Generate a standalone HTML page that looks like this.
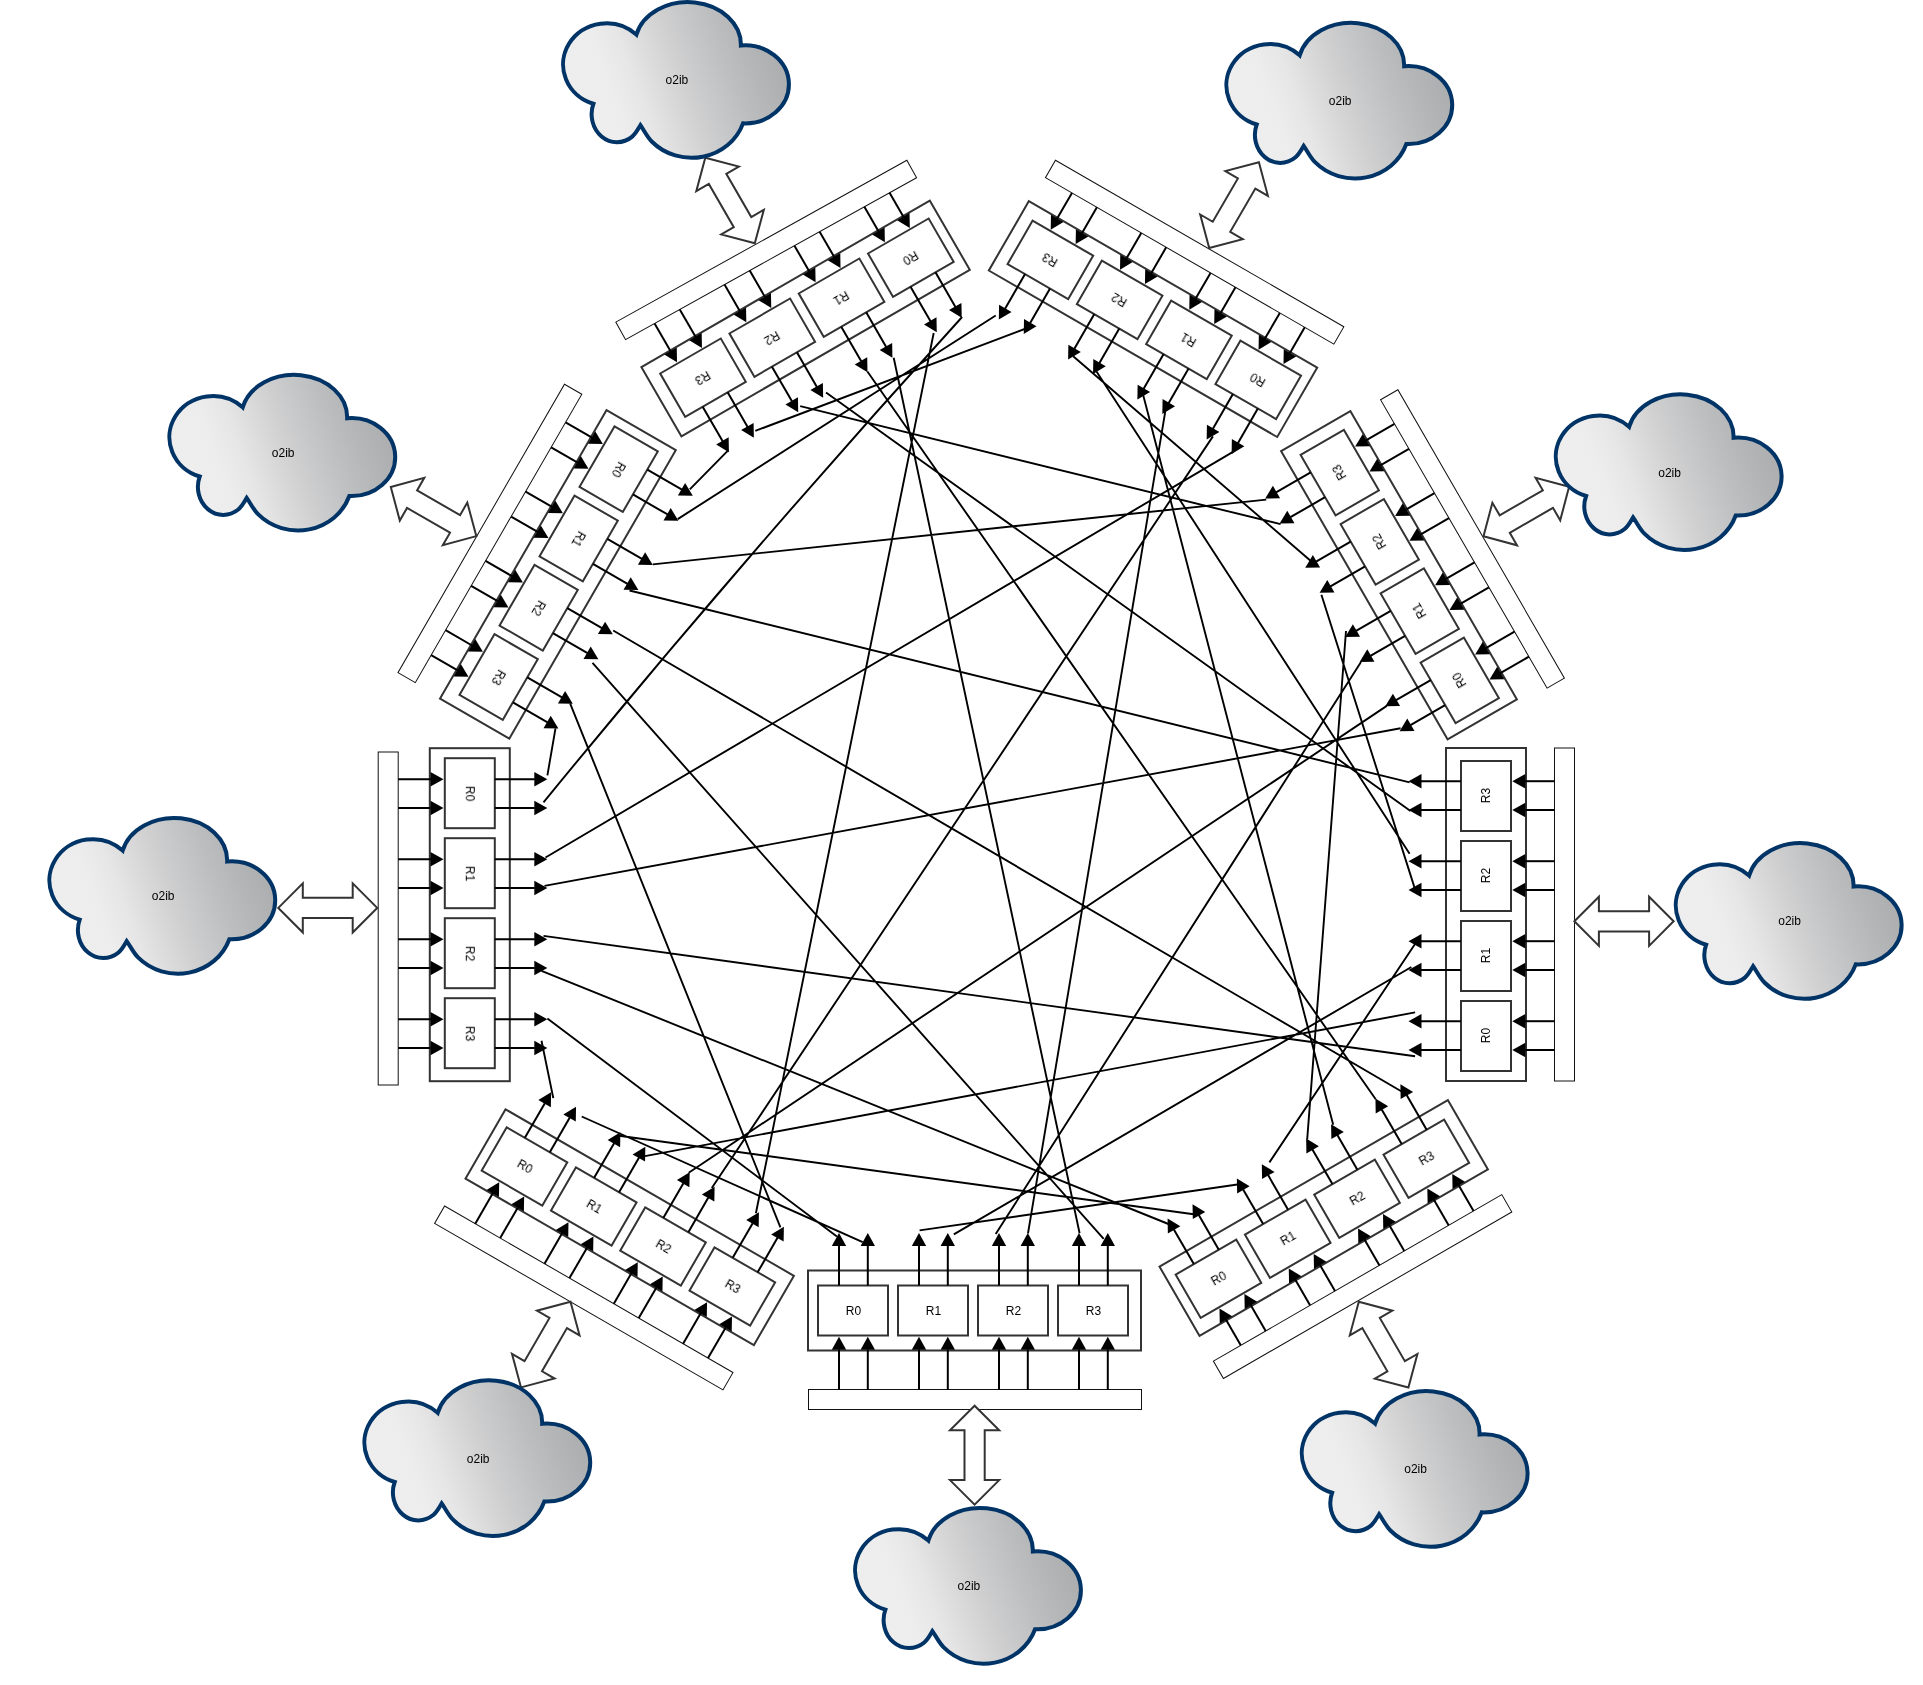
<!DOCTYPE html><html><head><meta charset="utf-8"><title>o2ib routers</title><style>html,body{margin:0;padding:0;background:#fff}svg{display:block}</style></head><body><svg width="1923" height="1685" viewBox="0 0 1923 1685">
<defs><filter id="tf" x="-1" y="-1" width="3" height="3"><feOffset dx="0" dy="0"/></filter></defs>
<defs><linearGradient id="cg" gradientUnits="userSpaceOnUse" x1="6.94" y1="119.33" x2="223.06" y2="40.67"><stop offset="0" stop-color="#eeeeee"/><stop offset="0.22" stop-color="#ededed"/><stop offset="0.33" stop-color="#e6e6e6"/><stop offset="0.43" stop-color="#dbdbdc"/><stop offset="0.53" stop-color="#d0d0d1"/><stop offset="0.63" stop-color="#c6c7c8"/><stop offset="0.73" stop-color="#bdbebf"/><stop offset="0.83" stop-color="#b5b6b7"/><stop offset="0.92" stop-color="#afb0b2"/><stop offset="1" stop-color="#aaabad"/></linearGradient></defs>
<rect width="1923" height="1685" fill="#fff"/>
<g transform="translate(808 1270.5) rotate(0)"><g fill="#fff" stroke="#333" stroke-width="2"><rect x="0" y="0" width="333" height="80"/><rect x="10" y="15" width="70" height="50"/><rect x="90" y="15" width="70" height="50"/><rect x="170" y="15" width="70" height="50"/><rect x="250" y="15" width="70" height="50"/></g><rect x="0.5" y="119" width="333" height="20" fill="#fff" stroke="#111" stroke-width="1"/><g fill="none" stroke="#000" stroke-width="2"><path d="M31 119V78.8"/><path d="M31 15V-25"/><path d="M59.8 119V78.8"/><path d="M59.8 15V-25"/><path d="M111 119V78.8"/><path d="M111 15V-25"/><path d="M139.8 119V78.8"/><path d="M139.8 15V-25"/><path d="M191 119V78.8"/><path d="M191 15V-25"/><path d="M219.8 119V78.8"/><path d="M219.8 15V-25"/><path d="M271 119V78.8"/><path d="M271 15V-25"/><path d="M299.8 119V78.8"/><path d="M299.8 15V-25"/></g><g fill="#000" stroke="none"><path d="M31 66.3L23.8 79.3L38.2 79.3Z"/><path d="M31 -37.5L23.8 -24.5L38.2 -24.5Z"/><path d="M59.8 66.3L52.6 79.3L67 79.3Z"/><path d="M59.8 -37.5L52.6 -24.5L67 -24.5Z"/><path d="M111 66.3L103.8 79.3L118.2 79.3Z"/><path d="M111 -37.5L103.8 -24.5L118.2 -24.5Z"/><path d="M139.8 66.3L132.6 79.3L147 79.3Z"/><path d="M139.8 -37.5L132.6 -24.5L147 -24.5Z"/><path d="M191 66.3L183.8 79.3L198.2 79.3Z"/><path d="M191 -37.5L183.8 -24.5L198.2 -24.5Z"/><path d="M219.8 66.3L212.6 79.3L227 79.3Z"/><path d="M219.8 -37.5L212.6 -24.5L227 -24.5Z"/><path d="M271 66.3L263.8 79.3L278.2 79.3Z"/><path d="M271 -37.5L263.8 -24.5L278.2 -24.5Z"/><path d="M299.8 66.3L292.6 79.3L307 79.3Z"/><path d="M299.8 -37.5L292.6 -24.5L307 -24.5Z"/></g><g font-family="Liberation Sans, Arial, Helvetica, sans-serif" font-size="12" text-anchor="middle" fill="#000" filter="url(#tf)"><text x="45.5" y="44.3">R0</text><text x="125.5" y="44.3">R1</text><text x="205.5" y="44.3">R2</text><text x="285.5" y="44.3">R3</text></g></g>
<g transform="translate(505.5 1109.3) rotate(30)"><g fill="#fff" stroke="#333" stroke-width="2"><rect x="0" y="0" width="333" height="80"/><rect x="10" y="15" width="70" height="50"/><rect x="90" y="15" width="70" height="50"/><rect x="170" y="15" width="70" height="50"/><rect x="250" y="15" width="70" height="50"/></g><rect x="-4.4" y="114.2" width="333" height="20" fill="#fff" stroke="#111" stroke-width="1"/><g fill="none" stroke="#000" stroke-width="2"><path d="M31 114.2V78.8"/><path d="M31 15V-25"/><path d="M59.8 114.2V78.8"/><path d="M59.8 15V-25"/><path d="M111 114.2V78.8"/><path d="M111 15V-25"/><path d="M139.8 114.2V78.8"/><path d="M139.8 15V-25"/><path d="M191 114.2V78.8"/><path d="M191 15V-25"/><path d="M219.8 114.2V78.8"/><path d="M219.8 15V-25"/><path d="M271 114.2V78.8"/><path d="M271 15V-25"/><path d="M299.8 114.2V78.8"/><path d="M299.8 15V-25"/></g><g fill="#000" stroke="none"><path d="M31 66.3L23.8 79.3L38.2 79.3Z"/><path d="M31 -37.5L23.8 -24.5L38.2 -24.5Z"/><path d="M59.8 66.3L52.6 79.3L67 79.3Z"/><path d="M59.8 -37.5L52.6 -24.5L67 -24.5Z"/><path d="M111 66.3L103.8 79.3L118.2 79.3Z"/><path d="M111 -37.5L103.8 -24.5L118.2 -24.5Z"/><path d="M139.8 66.3L132.6 79.3L147 79.3Z"/><path d="M139.8 -37.5L132.6 -24.5L147 -24.5Z"/><path d="M191 66.3L183.8 79.3L198.2 79.3Z"/><path d="M191 -37.5L183.8 -24.5L198.2 -24.5Z"/><path d="M219.8 66.3L212.6 79.3L227 79.3Z"/><path d="M219.8 -37.5L212.6 -24.5L227 -24.5Z"/><path d="M271 66.3L263.8 79.3L278.2 79.3Z"/><path d="M271 -37.5L263.8 -24.5L278.2 -24.5Z"/><path d="M299.8 66.3L292.6 79.3L307 79.3Z"/><path d="M299.8 -37.5L292.6 -24.5L307 -24.5Z"/></g><g font-family="Liberation Sans, Arial, Helvetica, sans-serif" font-size="12" text-anchor="middle" fill="#000" filter="url(#tf)"><text x="45.5" y="44.3">R0</text><text x="125.5" y="44.3">R1</text><text x="205.5" y="44.3">R2</text><text x="285.5" y="44.3">R3</text></g></g>
<g transform="translate(509.8 748.2) rotate(90)"><g fill="#fff" stroke="#333" stroke-width="2"><rect x="0" y="0" width="333" height="80"/><rect x="10" y="15" width="70" height="50"/><rect x="90" y="15" width="70" height="50"/><rect x="170" y="15" width="70" height="50"/><rect x="250" y="15" width="70" height="50"/></g><rect x="3.8" y="111.6" width="333" height="20" fill="#fff" stroke="#111" stroke-width="1"/><g fill="none" stroke="#000" stroke-width="2"><path d="M31 111.6V78.8"/><path d="M31 15V-25"/><path d="M59.8 111.6V78.8"/><path d="M59.8 15V-25"/><path d="M111 111.6V78.8"/><path d="M111 15V-25"/><path d="M139.8 111.6V78.8"/><path d="M139.8 15V-25"/><path d="M191 111.6V78.8"/><path d="M191 15V-25"/><path d="M219.8 111.6V78.8"/><path d="M219.8 15V-25"/><path d="M271 111.6V78.8"/><path d="M271 15V-25"/><path d="M299.8 111.6V78.8"/><path d="M299.8 15V-25"/></g><g fill="#000" stroke="none"><path d="M31 66.3L23.8 79.3L38.2 79.3Z"/><path d="M31 -37.5L23.8 -24.5L38.2 -24.5Z"/><path d="M59.8 66.3L52.6 79.3L67 79.3Z"/><path d="M59.8 -37.5L52.6 -24.5L67 -24.5Z"/><path d="M111 66.3L103.8 79.3L118.2 79.3Z"/><path d="M111 -37.5L103.8 -24.5L118.2 -24.5Z"/><path d="M139.8 66.3L132.6 79.3L147 79.3Z"/><path d="M139.8 -37.5L132.6 -24.5L147 -24.5Z"/><path d="M191 66.3L183.8 79.3L198.2 79.3Z"/><path d="M191 -37.5L183.8 -24.5L198.2 -24.5Z"/><path d="M219.8 66.3L212.6 79.3L227 79.3Z"/><path d="M219.8 -37.5L212.6 -24.5L227 -24.5Z"/><path d="M271 66.3L263.8 79.3L278.2 79.3Z"/><path d="M271 -37.5L263.8 -24.5L278.2 -24.5Z"/><path d="M299.8 66.3L292.6 79.3L307 79.3Z"/><path d="M299.8 -37.5L292.6 -24.5L307 -24.5Z"/></g><g font-family="Liberation Sans, Arial, Helvetica, sans-serif" font-size="12" text-anchor="middle" fill="#000" filter="url(#tf)"><text x="45.5" y="44.3">R0</text><text x="125.5" y="44.3">R1</text><text x="205.5" y="44.3">R2</text><text x="285.5" y="44.3">R3</text></g></g>
<g transform="translate(675.8 450.2) rotate(120)"><g fill="#fff" stroke="#333" stroke-width="2"><rect x="0" y="0" width="333" height="80"/><rect x="10" y="15" width="70" height="50"/><rect x="90" y="15" width="70" height="50"/><rect x="170" y="15" width="70" height="50"/><rect x="250" y="15" width="70" height="50"/></g><rect x="-1.5" y="109.4" width="333" height="20" fill="#fff" stroke="#111" stroke-width="1"/><g fill="none" stroke="#000" stroke-width="2"><path d="M31 109.4V78.8"/><path d="M31 15V-25"/><path d="M59.8 109.4V78.8"/><path d="M59.8 15V-25"/><path d="M111 109.4V78.8"/><path d="M111 15V-25"/><path d="M139.8 109.4V78.8"/><path d="M139.8 15V-25"/><path d="M191 109.4V78.8"/><path d="M191 15V-25"/><path d="M219.8 109.4V78.8"/><path d="M219.8 15V-25"/><path d="M271 109.4V78.8"/><path d="M271 15V-25"/><path d="M299.8 109.4V78.8"/><path d="M299.8 15V-25"/></g><g fill="#000" stroke="none"><path d="M31 66.3L23.8 79.3L38.2 79.3Z"/><path d="M31 -37.5L23.8 -24.5L38.2 -24.5Z"/><path d="M59.8 66.3L52.6 79.3L67 79.3Z"/><path d="M59.8 -37.5L52.6 -24.5L67 -24.5Z"/><path d="M111 66.3L103.8 79.3L118.2 79.3Z"/><path d="M111 -37.5L103.8 -24.5L118.2 -24.5Z"/><path d="M139.8 66.3L132.6 79.3L147 79.3Z"/><path d="M139.8 -37.5L132.6 -24.5L147 -24.5Z"/><path d="M191 66.3L183.8 79.3L198.2 79.3Z"/><path d="M191 -37.5L183.8 -24.5L198.2 -24.5Z"/><path d="M219.8 66.3L212.6 79.3L227 79.3Z"/><path d="M219.8 -37.5L212.6 -24.5L227 -24.5Z"/><path d="M271 66.3L263.8 79.3L278.2 79.3Z"/><path d="M271 -37.5L263.8 -24.5L278.2 -24.5Z"/><path d="M299.8 66.3L292.6 79.3L307 79.3Z"/><path d="M299.8 -37.5L292.6 -24.5L307 -24.5Z"/></g><g font-family="Liberation Sans, Arial, Helvetica, sans-serif" font-size="12" text-anchor="middle" fill="#000" filter="url(#tf)"><text x="45.5" y="44.3">R0</text><text x="125.5" y="44.3">R1</text><text x="205.5" y="44.3">R2</text><text x="285.5" y="44.3">R3</text></g></g>
<g transform="translate(969.8 269.8) rotate(150)"><g fill="#fff" stroke="#333" stroke-width="2"><rect x="0" y="0" width="333" height="80"/><rect x="10" y="15" width="70" height="50"/><rect x="90" y="15" width="70" height="50"/><rect x="170" y="15" width="70" height="50"/><rect x="250" y="15" width="70" height="50"/></g><rect x="0.07" y="106.3" width="333" height="20" fill="#fff" stroke="#111" stroke-width="1" transform="rotate(0.93 0.07 106.3)"/><g fill="none" stroke="#000" stroke-width="2"><path d="M31 106.8V78.8"/><path d="M31 15V-25"/><path d="M59.8 107.27V78.8"/><path d="M59.8 15V-25"/><path d="M111 108.1V78.8"/><path d="M111 15V-25"/><path d="M139.8 108.57V78.8"/><path d="M139.8 15V-25"/><path d="M191 109.4V78.8"/><path d="M191 15V-25"/><path d="M219.8 109.87V78.8"/><path d="M219.8 15V-25"/><path d="M271 110.7V78.8"/><path d="M271 15V-25"/><path d="M299.8 111.17V78.8"/><path d="M299.8 15V-25"/></g><g fill="#000" stroke="none"><path d="M31 66.3L23.8 79.3L38.2 79.3Z"/><path d="M31 -37.5L23.8 -24.5L38.2 -24.5Z"/><path d="M59.8 66.3L52.6 79.3L67 79.3Z"/><path d="M59.8 -37.5L52.6 -24.5L67 -24.5Z"/><path d="M111 66.3L103.8 79.3L118.2 79.3Z"/><path d="M111 -37.5L103.8 -24.5L118.2 -24.5Z"/><path d="M139.8 66.3L132.6 79.3L147 79.3Z"/><path d="M139.8 -37.5L132.6 -24.5L147 -24.5Z"/><path d="M191 66.3L183.8 79.3L198.2 79.3Z"/><path d="M191 -37.5L183.8 -24.5L198.2 -24.5Z"/><path d="M219.8 66.3L212.6 79.3L227 79.3Z"/><path d="M219.8 -37.5L212.6 -24.5L227 -24.5Z"/><path d="M271 66.3L263.8 79.3L278.2 79.3Z"/><path d="M271 -37.5L263.8 -24.5L278.2 -24.5Z"/><path d="M299.8 66.3L292.6 79.3L307 79.3Z"/><path d="M299.8 -37.5L292.6 -24.5L307 -24.5Z"/></g><g font-family="Liberation Sans, Arial, Helvetica, sans-serif" font-size="12" text-anchor="middle" fill="#000" filter="url(#tf)"><text x="45.5" y="44.3">R0</text><text x="125.5" y="44.3">R1</text><text x="205.5" y="44.3">R2</text><text x="285.5" y="44.3">R3</text></g></g>
<g transform="translate(1277.2 437) rotate(210)"><g fill="#fff" stroke="#333" stroke-width="2"><rect x="0" y="0" width="333" height="80"/><rect x="10" y="15" width="70" height="50"/><rect x="90" y="15" width="70" height="50"/><rect x="170" y="15" width="70" height="50"/><rect x="250" y="15" width="70" height="50"/></g><rect x="-2.6" y="108.8" width="333" height="20" fill="#fff" stroke="#111" stroke-width="1"/><g fill="none" stroke="#000" stroke-width="2"><path d="M31 108.8V78.8"/><path d="M31 15V-25"/><path d="M59.8 108.8V78.8"/><path d="M59.8 15V-25"/><path d="M111 108.8V78.8"/><path d="M111 15V-25"/><path d="M139.8 108.8V78.8"/><path d="M139.8 15V-25"/><path d="M191 108.8V78.8"/><path d="M191 15V-25"/><path d="M219.8 108.8V78.8"/><path d="M219.8 15V-25"/><path d="M271 108.8V78.8"/><path d="M271 15V-25"/><path d="M299.8 108.8V78.8"/><path d="M299.8 15V-25"/></g><g fill="#000" stroke="none"><path d="M31 66.3L23.8 79.3L38.2 79.3Z"/><path d="M31 -37.5L23.8 -24.5L38.2 -24.5Z"/><path d="M59.8 66.3L52.6 79.3L67 79.3Z"/><path d="M59.8 -37.5L52.6 -24.5L67 -24.5Z"/><path d="M111 66.3L103.8 79.3L118.2 79.3Z"/><path d="M111 -37.5L103.8 -24.5L118.2 -24.5Z"/><path d="M139.8 66.3L132.6 79.3L147 79.3Z"/><path d="M139.8 -37.5L132.6 -24.5L147 -24.5Z"/><path d="M191 66.3L183.8 79.3L198.2 79.3Z"/><path d="M191 -37.5L183.8 -24.5L198.2 -24.5Z"/><path d="M219.8 66.3L212.6 79.3L227 79.3Z"/><path d="M219.8 -37.5L212.6 -24.5L227 -24.5Z"/><path d="M271 66.3L263.8 79.3L278.2 79.3Z"/><path d="M271 -37.5L263.8 -24.5L278.2 -24.5Z"/><path d="M299.8 66.3L292.6 79.3L307 79.3Z"/><path d="M299.8 -37.5L292.6 -24.5L307 -24.5Z"/></g><g font-family="Liberation Sans, Arial, Helvetica, sans-serif" font-size="12" text-anchor="middle" fill="#000" filter="url(#tf)"><text x="45.5" y="44.3">R0</text><text x="125.5" y="44.3">R1</text><text x="205.5" y="44.3">R2</text><text x="285.5" y="44.3">R3</text></g></g>
<g transform="translate(1447.6 739.4) rotate(240)"><g fill="#fff" stroke="#333" stroke-width="2"><rect x="0" y="0" width="333" height="80"/><rect x="10" y="15" width="70" height="50"/><rect x="90" y="15" width="70" height="50"/><rect x="170" y="15" width="70" height="50"/><rect x="250" y="15" width="70" height="50"/></g><rect x="-5.3" y="111.8" width="333" height="20" fill="#fff" stroke="#111" stroke-width="1"/><g fill="none" stroke="#000" stroke-width="2"><path d="M31 111.8V78.8"/><path d="M31 15V-25"/><path d="M59.8 111.8V78.8"/><path d="M59.8 15V-25"/><path d="M111 111.8V78.8"/><path d="M111 15V-25"/><path d="M139.8 111.8V78.8"/><path d="M139.8 15V-25"/><path d="M191 111.8V78.8"/><path d="M191 15V-25"/><path d="M219.8 111.8V78.8"/><path d="M219.8 15V-25"/><path d="M271 111.8V78.8"/><path d="M271 15V-25"/><path d="M299.8 111.8V78.8"/><path d="M299.8 15V-25"/></g><g fill="#000" stroke="none"><path d="M31 66.3L23.8 79.3L38.2 79.3Z"/><path d="M31 -37.5L23.8 -24.5L38.2 -24.5Z"/><path d="M59.8 66.3L52.6 79.3L67 79.3Z"/><path d="M59.8 -37.5L52.6 -24.5L67 -24.5Z"/><path d="M111 66.3L103.8 79.3L118.2 79.3Z"/><path d="M111 -37.5L103.8 -24.5L118.2 -24.5Z"/><path d="M139.8 66.3L132.6 79.3L147 79.3Z"/><path d="M139.8 -37.5L132.6 -24.5L147 -24.5Z"/><path d="M191 66.3L183.8 79.3L198.2 79.3Z"/><path d="M191 -37.5L183.8 -24.5L198.2 -24.5Z"/><path d="M219.8 66.3L212.6 79.3L227 79.3Z"/><path d="M219.8 -37.5L212.6 -24.5L227 -24.5Z"/><path d="M271 66.3L263.8 79.3L278.2 79.3Z"/><path d="M271 -37.5L263.8 -24.5L278.2 -24.5Z"/><path d="M299.8 66.3L292.6 79.3L307 79.3Z"/><path d="M299.8 -37.5L292.6 -24.5L307 -24.5Z"/></g><g font-family="Liberation Sans, Arial, Helvetica, sans-serif" font-size="12" text-anchor="middle" fill="#000" filter="url(#tf)"><text x="45.5" y="44.3">R0</text><text x="125.5" y="44.3">R1</text><text x="205.5" y="44.3">R2</text><text x="285.5" y="44.3">R3</text></g></g>
<g transform="translate(1446 1081) rotate(270)"><g fill="#fff" stroke="#333" stroke-width="2"><rect x="0" y="0" width="333" height="80"/><rect x="10" y="15" width="70" height="50"/><rect x="90" y="15" width="70" height="50"/><rect x="170" y="15" width="70" height="50"/><rect x="250" y="15" width="70" height="50"/></g><rect x="0" y="108.5" width="333" height="20" fill="#fff" stroke="#111" stroke-width="1"/><g fill="none" stroke="#000" stroke-width="2"><path d="M31 108.5V78.8"/><path d="M31 15V-25"/><path d="M59.8 108.5V78.8"/><path d="M59.8 15V-25"/><path d="M111 108.5V78.8"/><path d="M111 15V-25"/><path d="M139.8 108.5V78.8"/><path d="M139.8 15V-25"/><path d="M191 108.5V78.8"/><path d="M191 15V-25"/><path d="M219.8 108.5V78.8"/><path d="M219.8 15V-25"/><path d="M271 108.5V78.8"/><path d="M271 15V-25"/><path d="M299.8 108.5V78.8"/><path d="M299.8 15V-25"/></g><g fill="#000" stroke="none"><path d="M31 66.3L23.8 79.3L38.2 79.3Z"/><path d="M31 -37.5L23.8 -24.5L38.2 -24.5Z"/><path d="M59.8 66.3L52.6 79.3L67 79.3Z"/><path d="M59.8 -37.5L52.6 -24.5L67 -24.5Z"/><path d="M111 66.3L103.8 79.3L118.2 79.3Z"/><path d="M111 -37.5L103.8 -24.5L118.2 -24.5Z"/><path d="M139.8 66.3L132.6 79.3L147 79.3Z"/><path d="M139.8 -37.5L132.6 -24.5L147 -24.5Z"/><path d="M191 66.3L183.8 79.3L198.2 79.3Z"/><path d="M191 -37.5L183.8 -24.5L198.2 -24.5Z"/><path d="M219.8 66.3L212.6 79.3L227 79.3Z"/><path d="M219.8 -37.5L212.6 -24.5L227 -24.5Z"/><path d="M271 66.3L263.8 79.3L278.2 79.3Z"/><path d="M271 -37.5L263.8 -24.5L278.2 -24.5Z"/><path d="M299.8 66.3L292.6 79.3L307 79.3Z"/><path d="M299.8 -37.5L292.6 -24.5L307 -24.5Z"/></g><g font-family="Liberation Sans, Arial, Helvetica, sans-serif" font-size="12" text-anchor="middle" fill="#000" filter="url(#tf)"><text x="45.5" y="44.3">R0</text><text x="125.5" y="44.3">R1</text><text x="205.5" y="44.3">R2</text><text x="285.5" y="44.3">R3</text></g></g>
<g transform="translate(1159.5 1266.6) rotate(-30)"><g fill="#fff" stroke="#333" stroke-width="2"><rect x="0" y="0" width="333" height="80"/><rect x="10" y="15" width="70" height="50"/><rect x="90" y="15" width="70" height="50"/><rect x="170" y="15" width="70" height="50"/><rect x="250" y="15" width="70" height="50"/></g><rect x="-0.6" y="108.85" width="333" height="20" fill="#fff" stroke="#111" stroke-width="1"/><g fill="none" stroke="#000" stroke-width="2"><path d="M31 108.85V78.8"/><path d="M31 15V-25"/><path d="M59.8 108.85V78.8"/><path d="M59.8 15V-25"/><path d="M111 108.85V78.8"/><path d="M111 15V-25"/><path d="M139.8 108.85V78.8"/><path d="M139.8 15V-25"/><path d="M191 108.85V78.8"/><path d="M191 15V-25"/><path d="M219.8 108.85V78.8"/><path d="M219.8 15V-25"/><path d="M271 108.85V78.8"/><path d="M271 15V-25"/><path d="M299.8 108.85V78.8"/><path d="M299.8 15V-25"/></g><g fill="#000" stroke="none"><path d="M31 66.3L23.8 79.3L38.2 79.3Z"/><path d="M31 -37.5L23.8 -24.5L38.2 -24.5Z"/><path d="M59.8 66.3L52.6 79.3L67 79.3Z"/><path d="M59.8 -37.5L52.6 -24.5L67 -24.5Z"/><path d="M111 66.3L103.8 79.3L118.2 79.3Z"/><path d="M111 -37.5L103.8 -24.5L118.2 -24.5Z"/><path d="M139.8 66.3L132.6 79.3L147 79.3Z"/><path d="M139.8 -37.5L132.6 -24.5L147 -24.5Z"/><path d="M191 66.3L183.8 79.3L198.2 79.3Z"/><path d="M191 -37.5L183.8 -24.5L198.2 -24.5Z"/><path d="M219.8 66.3L212.6 79.3L227 79.3Z"/><path d="M219.8 -37.5L212.6 -24.5L227 -24.5Z"/><path d="M271 66.3L263.8 79.3L278.2 79.3Z"/><path d="M271 -37.5L263.8 -24.5L278.2 -24.5Z"/><path d="M299.8 66.3L292.6 79.3L307 79.3Z"/><path d="M299.8 -37.5L292.6 -24.5L307 -24.5Z"/></g><g font-family="Liberation Sans, Arial, Helvetica, sans-serif" font-size="12" text-anchor="middle" fill="#000" filter="url(#tf)"><text x="45.5" y="44.3">R0</text><text x="125.5" y="44.3">R1</text><text x="205.5" y="44.3">R2</text><text x="285.5" y="44.3">R3</text></g></g>
<path d="M728.4 450.2L689.8 489.3M677.7 519.1L995.7 315.5M652.8 564.4L1266.3 499.6M629.5 590.5L1409.6 782.4M613.2 630.5L1401.2 1091.3M592.5 662.8L1103.7 1238.9M570.1 703.3L780.4 1227.4M555.5 728.3L547.4 775.3M962.1 317Q746.5 554.2 543.5 802.3M1233.4 451.6L545.5 857.5M1400.6 728.3L544.5 885.9M543.5 935.9L1415.1 1056.2M541.5 970.8L1169.7 1224.5M547.4 1018.6L836.9 1236.5M541.5 1040.7L553.3 1098.1M581.7 1116.5L862.7 1242.2M619.1 1135.7L1193.7 1214.3M645 1156.1L1415.1 1012.4M688.7 1172.8L1386.8 705.9M711.8 1188L1212.9 436.4M933.7 333L755.9 1213.2M919.6 1230.4L1237.4 1184.5M953.8 1234.4L1411.4 967M995.7 1234.1L1361 662M1165.3 411.3L1028 1233.3M893.7 357.7L1079.6 1233.3M1269.4 1162.4L1415.7 943M1346 631L1307.2 1139.4M1143.1 394.8L1333.2 1124.8M867.4 371.5L1375.7 1099.3M826 392.6L1410.5 811M800.2 406.2L1280.6 524.2M755.3 430.9L1026 328.5M1073.2 356.2L1311.1 561.3M1096.5 371.5L1409.6 853.8M1321.4 594.8L1414.6 887.9" fill="none" stroke="#000" stroke-width="1.9"/>
<path d="M974.6 1405.7L950 1430.2L964.5 1430.2L964.5 1480.1L950 1480.1L974.6 1504.6L999.2 1480.1L984.7 1480.1L984.7 1430.2L999.2 1430.2ZM570.5 1301.8L536.94 1310.69L549.49 1317.95L524.52 1361.13L511.97 1353.88L521 1387.4L554.56 1378.51L542.01 1371.25L566.98 1328.07L579.53 1335.32ZM377.2 907.9L352.7 883.3L352.7 897.8L302.8 897.8L302.8 883.3L278.3 907.9L302.8 932.5L302.8 918L352.7 918L352.7 932.5ZM476.3 536.1L467.3 502.57L460.08 515.14L417.08 490.44L424.3 477.87L390.8 487L399.8 520.53L407.02 507.96L450.02 532.66L442.8 545.23ZM754.8 243.3L763.83 209.78L751.28 217.03L726.31 173.85L738.86 166.59L705.3 157.7L696.27 191.22L708.82 183.97L733.79 227.15L721.24 234.41ZM1209.2 248L1242.77 239.15L1230.23 231.87L1255.35 188.56L1267.89 195.84L1258.9 162.3L1225.33 171.15L1237.87 178.43L1212.75 221.74L1200.21 214.46ZM1483.5 536.3L1517.02 545.33L1509.77 532.78L1552.95 507.81L1560.21 520.36L1569.1 486.8L1535.58 477.77L1542.83 490.32L1499.65 515.29L1492.39 502.74ZM1574.4 921.3L1598.9 945.9L1598.9 931.4L1649.1 931.4L1649.1 945.9L1673.6 921.3L1649.1 896.7L1649.1 911.2L1598.9 911.2L1598.9 896.7ZM1358.8 1301.8L1349.78 1335.33L1362.33 1328.06L1387.39 1371.35L1374.84 1378.62L1408.4 1387.5L1417.42 1353.97L1404.87 1361.24L1379.81 1317.95L1392.36 1310.68Z" fill="#fff" stroke="#333" stroke-width="2" stroke-miterlimit="10"/>
<g transform="translate(853.5 1506.2)"><path d="M31.92 103.49A43.4 41.2 0 0 1 7.62 43.26A43.4 41.2 0 0 1 74.9 34.34A53 42.6 0 0 1 133.25 2.16A53 42.6 0 0 1 179.39 45.29A43.7 39 0 0 1 227.39 83.14A43.7 39 0 0 1 181.53 123.05A54.3 50.7 0 0 1 141.41 156.39A54.3 50.7 0 0 1 90.22 141.21C85.56 136.5 82.71 130.31 78.9 124.9C76.5 128.9 74.35 133.31 70.75 136.29A25.4 28 0 0 1 40.05 136.12A25.4 28 0 0 1 31.92 103.49Z" fill="url(#cg)" stroke="#003366" stroke-width="4" stroke-linejoin="miter"/><text x="115.4" y="84" font-family="Liberation Sans, Arial, Helvetica, sans-serif" font-size="12" text-anchor="middle" fill="#000" filter="url(#tf)">o2ib</text></g>
<g transform="translate(362.8 1378.5)"><path d="M31.92 103.49A43.4 41.2 0 0 1 7.62 43.26A43.4 41.2 0 0 1 74.9 34.34A53 42.6 0 0 1 133.25 2.16A53 42.6 0 0 1 179.39 45.29A43.7 39 0 0 1 227.39 83.14A43.7 39 0 0 1 181.53 123.05A54.3 50.7 0 0 1 141.41 156.39A54.3 50.7 0 0 1 90.22 141.21C85.56 136.5 82.71 130.31 78.9 124.9C76.5 128.9 74.35 133.31 70.75 136.29A25.4 28 0 0 1 40.05 136.12A25.4 28 0 0 1 31.92 103.49Z" fill="url(#cg)" stroke="#003366" stroke-width="4" stroke-linejoin="miter"/><text x="115.4" y="84" font-family="Liberation Sans, Arial, Helvetica, sans-serif" font-size="12" text-anchor="middle" fill="#000" filter="url(#tf)">o2ib</text></g>
<g transform="translate(47.8 816.2)"><path d="M31.92 103.49A43.4 41.2 0 0 1 7.62 43.26A43.4 41.2 0 0 1 74.9 34.34A53 42.6 0 0 1 133.25 2.16A53 42.6 0 0 1 179.39 45.29A43.7 39 0 0 1 227.39 83.14A43.7 39 0 0 1 181.53 123.05A54.3 50.7 0 0 1 141.41 156.39A54.3 50.7 0 0 1 90.22 141.21C85.56 136.5 82.71 130.31 78.9 124.9C76.5 128.9 74.35 133.31 70.75 136.29A25.4 28 0 0 1 40.05 136.12A25.4 28 0 0 1 31.92 103.49Z" fill="url(#cg)" stroke="#003366" stroke-width="4" stroke-linejoin="miter"/><text x="115.4" y="84" font-family="Liberation Sans, Arial, Helvetica, sans-serif" font-size="12" text-anchor="middle" fill="#000" filter="url(#tf)">o2ib</text></g>
<g transform="translate(167.8 373)"><path d="M31.92 103.49A43.4 41.2 0 0 1 7.62 43.26A43.4 41.2 0 0 1 74.9 34.34A53 42.6 0 0 1 133.25 2.16A53 42.6 0 0 1 179.39 45.29A43.7 39 0 0 1 227.39 83.14A43.7 39 0 0 1 181.53 123.05A54.3 50.7 0 0 1 141.41 156.39A54.3 50.7 0 0 1 90.22 141.21C85.56 136.5 82.71 130.31 78.9 124.9C76.5 128.9 74.35 133.31 70.75 136.29A25.4 28 0 0 1 40.05 136.12A25.4 28 0 0 1 31.92 103.49Z" fill="url(#cg)" stroke="#003366" stroke-width="4" stroke-linejoin="miter"/><text x="115.4" y="84" font-family="Liberation Sans, Arial, Helvetica, sans-serif" font-size="12" text-anchor="middle" fill="#000" filter="url(#tf)">o2ib</text></g>
<g transform="translate(561.5 0.3)"><path d="M31.92 103.49A43.4 41.2 0 0 1 7.62 43.26A43.4 41.2 0 0 1 74.9 34.34A53 42.6 0 0 1 133.25 2.16A53 42.6 0 0 1 179.39 45.29A43.7 39 0 0 1 227.39 83.14A43.7 39 0 0 1 181.53 123.05A54.3 50.7 0 0 1 141.41 156.39A54.3 50.7 0 0 1 90.22 141.21C85.56 136.5 82.71 130.31 78.9 124.9C76.5 128.9 74.35 133.31 70.75 136.29A25.4 28 0 0 1 40.05 136.12A25.4 28 0 0 1 31.92 103.49Z" fill="url(#cg)" stroke="#003366" stroke-width="4" stroke-linejoin="miter"/><text x="115.4" y="84" font-family="Liberation Sans, Arial, Helvetica, sans-serif" font-size="12" text-anchor="middle" fill="#000" filter="url(#tf)">o2ib</text></g>
<g transform="translate(1224.8 21)"><path d="M31.92 103.49A43.4 41.2 0 0 1 7.62 43.26A43.4 41.2 0 0 1 74.9 34.34A53 42.6 0 0 1 133.25 2.16A53 42.6 0 0 1 179.39 45.29A43.7 39 0 0 1 227.39 83.14A43.7 39 0 0 1 181.53 123.05A54.3 50.7 0 0 1 141.41 156.39A54.3 50.7 0 0 1 90.22 141.21C85.56 136.5 82.71 130.31 78.9 124.9C76.5 128.9 74.35 133.31 70.75 136.29A25.4 28 0 0 1 40.05 136.12A25.4 28 0 0 1 31.92 103.49Z" fill="url(#cg)" stroke="#003366" stroke-width="4" stroke-linejoin="miter"/><text x="115.4" y="84" font-family="Liberation Sans, Arial, Helvetica, sans-serif" font-size="12" text-anchor="middle" fill="#000" filter="url(#tf)">o2ib</text></g>
<g transform="translate(1554.2 392.5)"><path d="M31.92 103.49A43.4 41.2 0 0 1 7.62 43.26A43.4 41.2 0 0 1 74.9 34.34A53 42.6 0 0 1 133.25 2.16A53 42.6 0 0 1 179.39 45.29A43.7 39 0 0 1 227.39 83.14A43.7 39 0 0 1 181.53 123.05A54.3 50.7 0 0 1 141.41 156.39A54.3 50.7 0 0 1 90.22 141.21C85.56 136.5 82.71 130.31 78.9 124.9C76.5 128.9 74.35 133.31 70.75 136.29A25.4 28 0 0 1 40.05 136.12A25.4 28 0 0 1 31.92 103.49Z" fill="url(#cg)" stroke="#003366" stroke-width="4" stroke-linejoin="miter"/><text x="115.4" y="84" font-family="Liberation Sans, Arial, Helvetica, sans-serif" font-size="12" text-anchor="middle" fill="#000" filter="url(#tf)">o2ib</text></g>
<g transform="translate(1674.2 841.3)"><path d="M31.92 103.49A43.4 41.2 0 0 1 7.62 43.26A43.4 41.2 0 0 1 74.9 34.34A53 42.6 0 0 1 133.25 2.16A53 42.6 0 0 1 179.39 45.29A43.7 39 0 0 1 227.39 83.14A43.7 39 0 0 1 181.53 123.05A54.3 50.7 0 0 1 141.41 156.39A54.3 50.7 0 0 1 90.22 141.21C85.56 136.5 82.71 130.31 78.9 124.9C76.5 128.9 74.35 133.31 70.75 136.29A25.4 28 0 0 1 40.05 136.12A25.4 28 0 0 1 31.92 103.49Z" fill="url(#cg)" stroke="#003366" stroke-width="4" stroke-linejoin="miter"/><text x="115.4" y="84" font-family="Liberation Sans, Arial, Helvetica, sans-serif" font-size="12" text-anchor="middle" fill="#000" filter="url(#tf)">o2ib</text></g>
<g transform="translate(1300.2 1389.3)"><path d="M31.92 103.49A43.4 41.2 0 0 1 7.62 43.26A43.4 41.2 0 0 1 74.9 34.34A53 42.6 0 0 1 133.25 2.16A53 42.6 0 0 1 179.39 45.29A43.7 39 0 0 1 227.39 83.14A43.7 39 0 0 1 181.53 123.05A54.3 50.7 0 0 1 141.41 156.39A54.3 50.7 0 0 1 90.22 141.21C85.56 136.5 82.71 130.31 78.9 124.9C76.5 128.9 74.35 133.31 70.75 136.29A25.4 28 0 0 1 40.05 136.12A25.4 28 0 0 1 31.92 103.49Z" fill="url(#cg)" stroke="#003366" stroke-width="4" stroke-linejoin="miter"/><text x="115.4" y="84" font-family="Liberation Sans, Arial, Helvetica, sans-serif" font-size="12" text-anchor="middle" fill="#000" filter="url(#tf)">o2ib</text></g>
</svg></body></html>
